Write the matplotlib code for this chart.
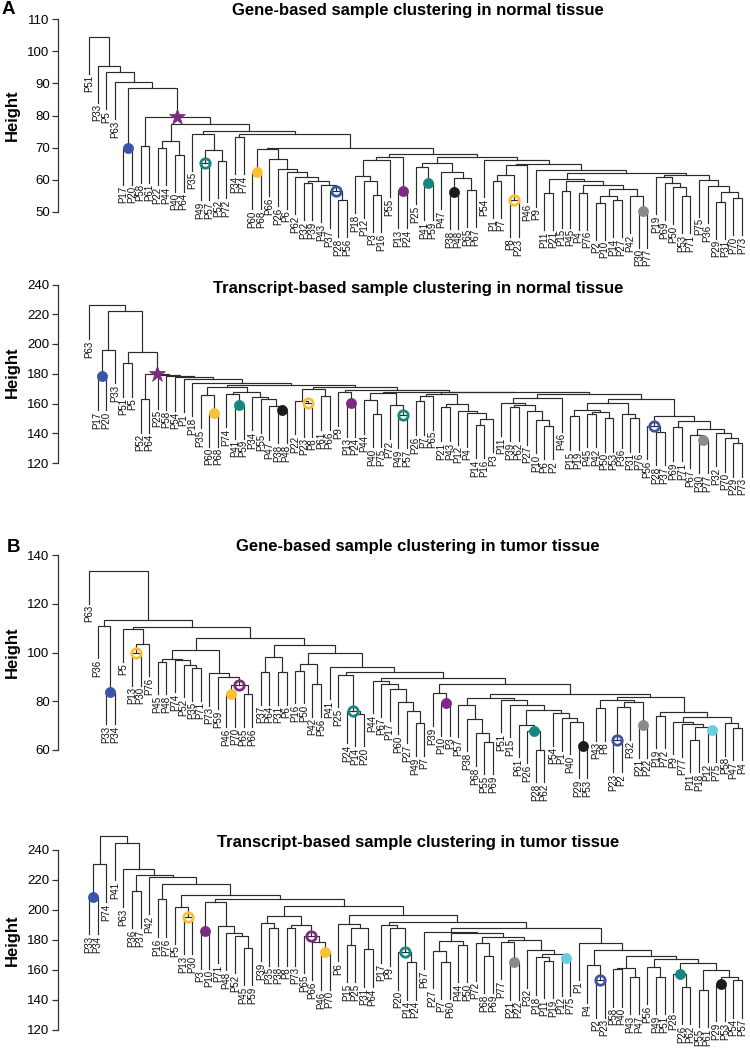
import numpy as np
import matplotlib
matplotlib.use("Agg")
import matplotlib.pyplot as plt

plt.rcParams['font.family'] = ['Liberation Sans', 'DejaVu Sans']

# ---------------------------------------------------------------------------
# leaf order and merge height between each pair of neighbouring leaves
# (the dendrogram is rebuilt from these gaps)

# A, gene-based, normal tissue
leaves_gn = ["P51","P33","P5","P63","P17","P20","P58","P61","P22","P44","P40","P64","P35","P49","P57",
             "P52","P72","P34","P74","P60","P68","P66","P26","P6","P62","P32","P39","P43","P37","P28",
             "P56","P18","P12","P3","P16","P55","P13","P24","P25","P41","P59","P47","P38","P48","P65",
             "P67","P54","P1","P7","P8","P23","P46","P9","P11","P21","P15","P45","P4","P76","P2","P10",
             "P14","P27","P42","P30","P77","P19","P69","P50","P53","P71","P75","P36","P29","P31","P70","P73"]
gaps_gn = [104.5, 95.5, 93.4, 90.3, 70.0, 88.4, 70.6, 79.6, 69.8, 72.2, 67.8, 77.4, 74.3, 65.2, 69.3,
           65.7, 75.3, 73.3, 74.3, 62.5, 69.5, 66.4, 63.3, 62.4, 60.8, 59.0, 59.6, 58.4, 56.5, 53.7,
           70.0, 61.2, 59.7, 55.3, 66.2, 67.2, 56.5, 68.0, 63.9, 59.0, 65.1, 62.3, 56.2, 60.7, 56.8,
           67.0, 66.2, 59.7, 61.5, 53.7, 64.6, 65.0, 63.1, 56.0, 60.2, 56.6, 59.5, 56.0, 58.5, 52.9,
           55.0, 53.6, 57.0, 55.0, 50.4, 62.0, 60.8, 59.1, 57.7, 55.0, 61.5, 60.0, 58.0, 53.2, 56.3, 54.2]
marks_gn = [(4, "blue", "dot"), (7, "purple", "star"), (13, "teal", "ring"), (19, "yellow", "dot"),
            (28, "blue", "ring"), (36, "purple", "dot"), (39, "teal", "dot"), (42, "black", "dot"),
            (49, "yellow", "ring"), (64, "gray", "dot")]

# A, transcript-based, normal tissue
leaves_tn = ["P63","P17","P20","P33","P51","P5","P52","P64","P25","P58","P54","P1","P18","P35","P60",
             "P68","P74","P41","P59","P34","P55","P47","P38","P48","P22","P23","P8","P61","P66","P9",
             "P13","P24","P44","P40","P75","P72","P49","P57","P26","P7","P65","P21","P43","P12","P4",
             "P14","P16","P3","P11","P39","P62","P27","P10","P6","P2","P46","P15","P19","P45","P42",
             "P50","P53","P36","P31","P76","P56","P28","P37","P69","P71","P67","P30","P77","P32","P70",
             "P29","P73"]
gaps_tn = [226.1, 178.3, 196.3, 222.1, 187.3, 194.5, 163.1, 179.8, 179.0, 178.5, 177.8, 176.7, 174.0,
           166.0, 153.6, 171.0, 166.5, 159.0, 167.5, 164.5, 163.0, 158.0, 155.9, 172.5, 162.0, 160.4,
           170.0, 164.8, 171.0, 167.5, 160.4, 169.0, 162.2, 153.2, 167.1, 158.8, 152.5, 168.0, 161.5,
           165.0, 166.5, 157.4, 160.0, 155.0, 153.6, 145.8, 149.8, 167.5, 160.5, 157.4, 158.7, 154.8,
           149.2, 145.1, 163.7, 166.5, 151.4, 155.9, 153.2, 154.0, 150.3, 160.5, 153.0, 150.3, 163.0,
           145.1, 141.0, 151.5, 144.0, 148.0, 139.0, 135.7, 143.0, 140.5, 136.8, 133.5]
marks_tn = [(1, "blue", "dot"), (7, "purple", "star"), (14, "yellow", "dot"), (17, "teal", "dot"),
            (22, "black", "dot"), (25, "yellow", "ring"), (30, "purple", "dot"), (36, "teal", "ring"),
            (65, "blue", "ring"), (71, "gray", "dot")]

# B, gene-based, tumor tissue
leaves_gt = ["P63","P36","P33","P34","P5","P13","P30","P76","P45","P48","P74","P52","P35","P71","P73",
             "P59","P46","P70","P65","P66","P37","P64","P31","P6","P16","P50","P42","P56","P41","P25",
             "P24","P14","P20","P44","P67","P17","P60","P27","P49","P7","P39","P10","P3","P57","P38",
             "P68","P55","P69","P51","P15","P61","P26","P28","P62","P54","P1","P40","P29","P53","P43",
             "P8","P23","P2","P32","P21","P22","P19","P72","P9","P77","P11","P18","P12","P75","P58",
             "P47","P4"]
gaps_gt = [133.4, 110.9, 83.9, 113.3, 109.5, 99.7, 103.5, 110.3, 96.2, 97.5, 96.9, 94.9, 93.5, 101.0,
           91.5, 90.1, 82.8, 86.7, 82.8, 106.1, 91.9, 98.3, 91.9, 103.1, 92.5, 95.1, 86.9, 99.7, 94.2,
           90.8, 76.0, 74.8, 92.1, 88.5, 87.0, 85.0, 79.8, 76.0, 70.9, 89.4, 83.2, 79.1, 86.9, 78.5,
           72.7, 66.8, 63.4, 81.5, 80.5, 78.5, 70.3, 68.0, 60.0, 76.4, 75.0, 73.0, 71.6, 61.8, 82.8,
           77.1, 80.5, 64.1, 77.5, 79.6, 70.2, 81.8, 74.0, 75.7, 71.6, 70.5, 64.1, 69.5, 68.3, 73.7,
           71.0, 69.0]
marks_gt = [(2, "blue", "dot"), (5, "yellow", "ring"), (16, "yellow", "dot"), (17, "purple", "ring"),
            (30, "teal", "ring"), (41, "purple", "dot"), (51, "teal", "dot"), (57, "black", "dot"),
            (61, "blue", "ring"), (64, "gray", "dot"), (72, "cyan", "dot")]

# B, transcript-based, tumor tissue
leaves_tt = ["P33","P34","P74","P41","P63","P36","P37","P42","P16","P76","P5","P13","P30","P3","P10",
             "P71","P48","P52","P45","P59","P39","P35","P38","P8","P73","P65","P66","P46","P70","P6",
             "P15","P25","P31","P64","P17","P9","P20","P14","P24","P67","P27","P7","P60","P44","P50",
             "P72","P68","P69","P77","P21","P22","P32","P18","P11","P19","P12","P75","P1","P4","P2",
             "P23","P58","P40","P43","P47","P56","P49","P51","P28","P26","P62","P55","P61","P29","P53",
             "P54","P57"]
gaps_tt = [208.9, 230.4, 249.3, 244.9, 227.1, 212.9, 223.3, 222.2, 207.1, 217.1, 202.2, 195.6, 210.0,
           186.0, 205.1, 189.6, 184.9, 182.9, 174.9, 207.1, 191.1, 187.8, 196.2, 187.8, 190.0, 182.9,
           178.4, 171.8, 202.7, 190.7, 176.7, 188.2, 173.8, 196.5, 190.0, 188.0, 171.8, 165.1, 192.0,
           185.6, 172.9, 165.6, 179.6, 176.7, 184.4, 177.8, 169.6, 182.0, 178.9, 165.1, 180.0, 173.3,
           168.4, 166.2, 170.7, 167.8, 187.8, 178.2, 163.3, 153.3, 173.3, 160.5, 161.5, 155.6, 169.3,
           162.2, 155.6, 167.1, 157.3, 148.9, 164.5, 146.7, 160.0, 150.7, 155.1, 153.3]
marks_tt = [(0, "blue", "dot"), (11, "yellow", "ring"), (13, "purple", "dot"), (25, "purple", "ring"),
            (27, "yellow", "dot"), (36, "teal", "ring"), (49, "gray", "dot"), (55, "cyan", "dot"),
            (59, "blue", "ring"), (68, "teal", "dot"), (73, "black", "dot")]

titles = ["Gene-based sample clustering in normal tissue",
          "Transcript-based sample clustering in normal tissue",
          "Gene-based sample clustering in tumor tissue",
          "Transcript-based sample clustering in tumor tissue"]

colors = {"blue": "#3a55a5", "purple": "#7b2b82", "teal": "#15897f", "yellow": "#f8c034",
          "black": "#1c1c1c", "gray": "#8a8a8a", "cyan": "#6ccde2"}
line_col = "#2b2b2b"

# ---------------------------------------------------------------------------
W, H = 750, 1048
fig = plt.figure(figsize=(W / 100, H / 100), dpi=100)

x_first, x_last = 89.0, 742.0     # pixel position of first / last leaf
spine_x = 58.0


def draw_tree(ax, leaves, gaps, hang, lab_pad):
    gaps = np.asarray(gaps, dtype=float)
    pos = {}

    def node(lo, hi):
        if lo == hi:
            return float(lo), None
        k = lo + int(np.argmax(gaps[lo:hi]))
        xl, hl = node(lo, k)
        xr, hr = node(k + 1, hi)
        h = gaps[k]
        yl = hl if hl is not None else h - hang
        yr = hr if hr is not None else h - hang
        ax.plot([xl, xl, xr, xr], [yl, h, h, yr], color=line_col, lw=0.85,
                solid_joinstyle="miter", zorder=2)
        for x, hh in ((xl, hl), (xr, hr)):
            if hh is None:
                ax.text(x, h - hang - lab_pad, leaves[int(x)], rotation=90, ha="center",
                        va="top", fontsize=7, color="#111111")
        pos[k] = ((xl + xr) / 2.0, h)
        return (xl + xr) / 2.0, h

    node(0, len(leaves) - 1)
    return pos


def draw_marks(ax, pos, marks):
    for k, c, kind in marks:
        x, h = pos[k]
        if kind == "dot":
            ax.plot(x, h, "o", ms=7.3, mfc=colors[c], mec=colors[c], mew=0.5, zorder=4)
        elif kind == "ring":
            ax.plot(x, h, "o", ms=6.8, mfc="none", mec=colors[c], mew=2.0, zorder=4)
        else:
            ax.plot(x, h, "*", ms=12, mfc=colors[c], mec=colors[c], mew=0.5, zorder=4)


panels = [
    # leaves, gaps, marks, hang, ax top/bot px, tick px top/bot, values top/bot, step, title y, label y
    (leaves_gn, gaps_gn, marks_gn, 11.5, 15, 275, 19.0, 212.0, 110, 50, 10, 10, 115),
    (leaves_tn, gaps_tn, marks_tn, 22.6, 278, 478, 284.5, 463.0, 240, 120, 20, 288, 372),
    (leaves_gt, gaps_gt, marks_gt, 13.3, 548, 800, 555.0, 750.0, 140, 60, 20, 547, 652),
    (leaves_tt, gaps_tt, marks_tt, 25.0, 830, 1048, 850.0, 1030.0, 240, 120, 20, 843, 940),
]

for i, (lv, gp, mk, hang, ax_top, ax_bot, t_top, t_bot, v_top, v_bot, step, ty, ly) in enumerate(panels):
    n = len(lv)
    dx = (x_last - x_first) / (n - 1)
    s = (t_bot - t_top) / (v_top - v_bot)   # pixels per unit

    ax = fig.add_axes([spine_x / W, 1 - ax_bot / H, (W - spine_x) / W, (ax_bot - ax_top) / H])
    ax.set_facecolor("none")
    ax.set_xlim((spine_x - x_first) / dx, (W - x_first) / dx)
    ax.set_ylim(v_top - (ax_bot - t_top) / s, v_top + (t_top - ax_top) / s)

    pos = draw_tree(ax, lv, gp, hang, 1.5 / s)
    draw_marks(ax, pos, mk)

    for side in ["top", "right", "bottom"]:
        ax.spines[side].set_visible(False)
    ax.spines["left"].set_bounds(v_bot, v_top)
    ax.spines["left"].set_color("#333333")
    ax.spines["left"].set_linewidth(0.9)
    ax.set_xticks([])
    ax.set_yticks(np.arange(v_bot, v_top + 1, step))
    ax.tick_params(axis="y", length=4.5, width=0.9, pad=1.5, labelsize=9.5, color="#333333")

    fig.text(418 / W, 1 - ty / H, titles[i], ha="center", va="center", fontsize=12,
             fontweight="bold")
    fig.text(12 / W, 1 - ly / H, "Height", rotation=90, ha="center", va="center", fontsize=12,
             fontweight="bold")

fig.text(2 / W, 1 - 9 / H, "A", ha="left", va="center", fontsize=13.5, fontweight="bold")
fig.text(7 / W, 1 - 547 / H, "B", ha="left", va="center", fontsize=13.5, fontweight="bold")

fig.savefig("out.png", dpi=100)
